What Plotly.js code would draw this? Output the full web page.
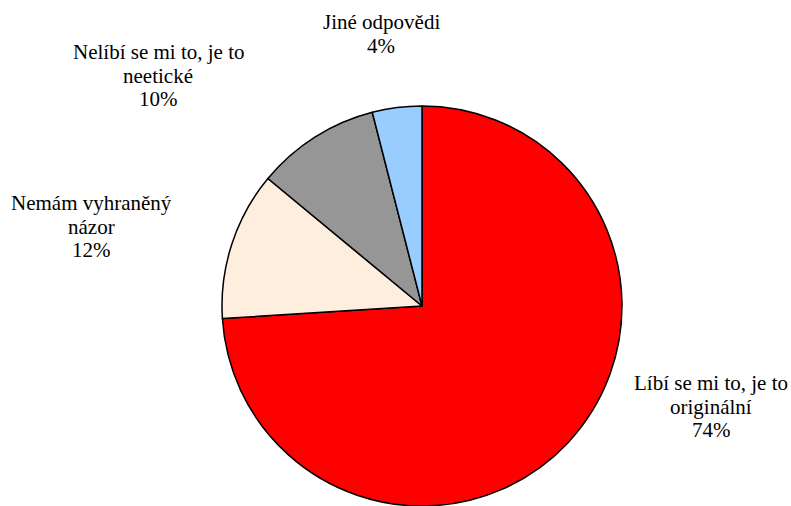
<!DOCTYPE html>
<html>
<head>
<meta charset="utf-8">
<script src="https://cdn.plot.ly/plotly-3.0.1.min.js"></script>
<style>html,body{margin:0;padding:0;background:#fff;}#chart{width:791px;height:506px;}</style>
</head>
<body>
<div id="chart"></div>
<script>
// Data
const categories = ["Líbí se mi to, je to originální", "Nemám vyhraněný názor", "Nelíbí se mi to, je to neetické", "Jiné odpovědi"];
const displayLabels = ["Líbí se mi to, je to<br>originální", "Nemám vyhraněný<br>názor", "Nelíbí se mi to, je to<br>neetické", "Jiné odpovědi"];
const values = [74, 12, 10, 4];
const colors = ["#FF0000", "#FDEEDE", "#969696", "#99CCFF"];

// Label placement: block center x and first-line baseline y (pixels)
const labelPos = [[711, 390], [91, 210], [158, 59], [381, 29]];
const lineGap = 23.7;
const fontSize = 21;
const M = {l: 222, r: 169, t: 106, b: 0};
const W = 791, H = 506;
const pw = W - M.l - M.r, ph = H - M.t - M.b;
const toX = px => (px - M.l) / pw;
const toY = py => 1 - (py - M.t) / ph;

const annotations = [];
categories.forEach((c, i) => {
  const lines = (displayLabels[i] + '<br>' + values[i] + '%').split('<br>');
  lines.forEach((ln, j) => {
    const base = labelPos[i][1] + j * lineGap;
    annotations.push({
      xref: 'paper', yref: 'paper',
      x: toX(labelPos[i][0]), y: toY(base - 7),
      xanchor: 'center', yanchor: 'middle',
      text: ln, showarrow: false, align: 'center',
      font: {family: 'Liberation Serif, Times New Roman, serif', size: fontSize, color: '#000'}
    });
  });
});

Plotly.newPlot('chart', [{
  type: 'pie',
  labels: categories,
  values: values,
  sort: false,
  direction: 'clockwise',
  rotation: 0,
  textinfo: 'none',
  hoverinfo: 'label+percent',
  marker: {colors: colors, line: {color: '#000', width: 1.5}}
}], {
  width: W, height: H,
  margin: M,
  showlegend: false,
  paper_bgcolor: '#fff',
  font: {family: 'Liberation Serif, Times New Roman, serif'},
  annotations: annotations
}, {displayModeBar: false, staticPlot: true});
</script>
</body>
</html>
